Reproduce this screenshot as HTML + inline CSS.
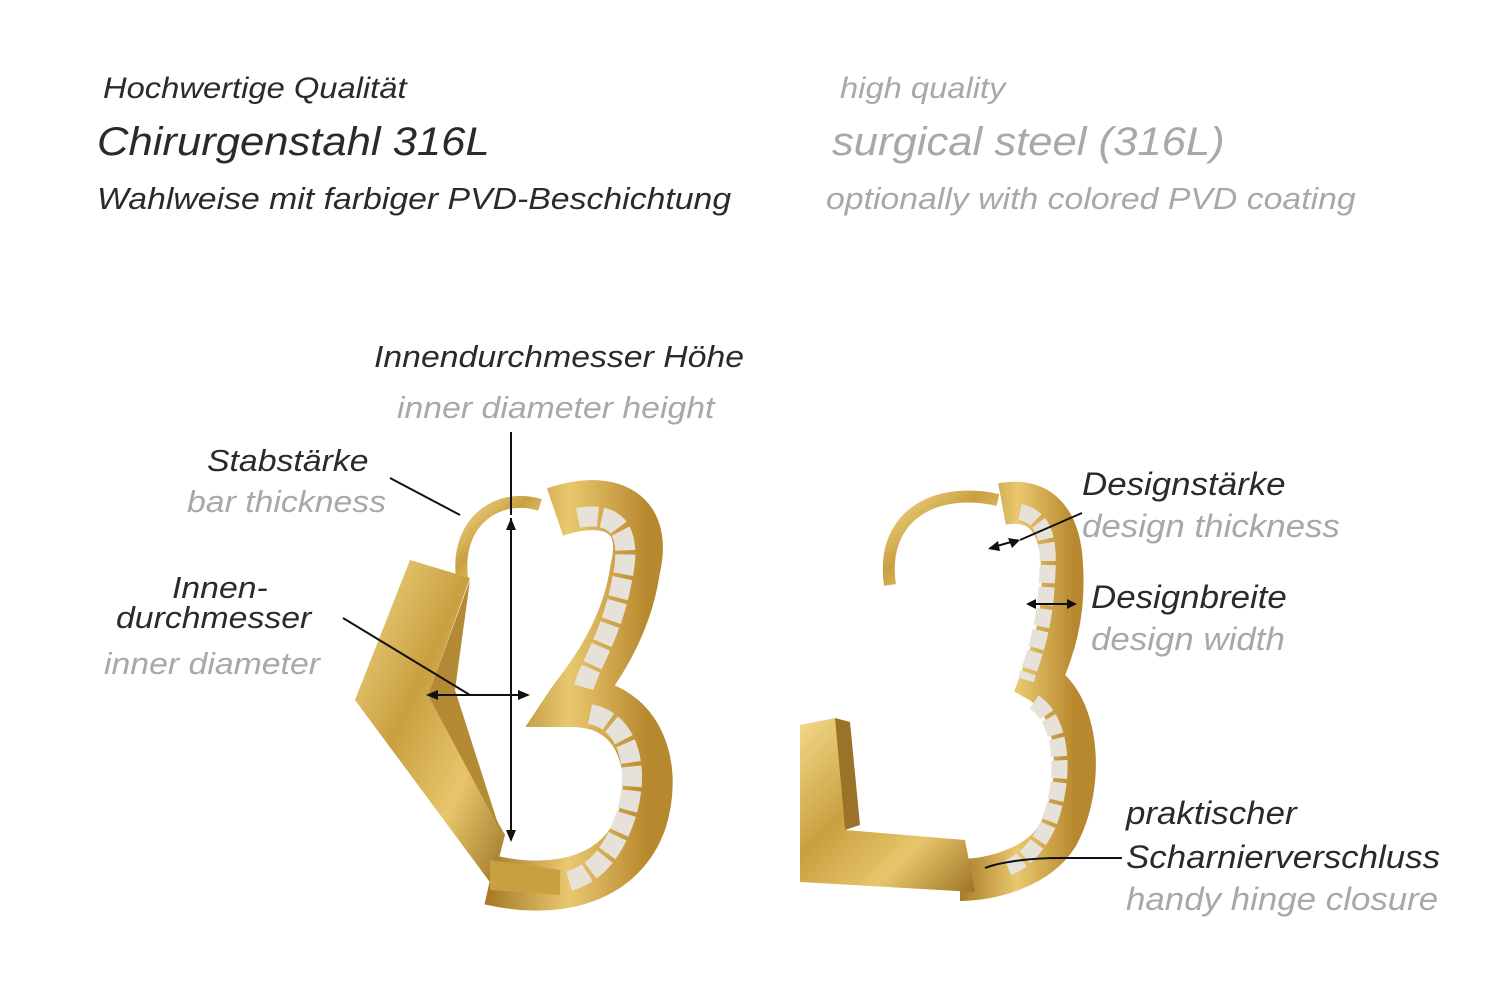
<!DOCTYPE html>
<html><head><meta charset="utf-8"><style>
html,body{margin:0;padding:0;background:#fff;}
#c{position:relative;width:1500px;height:1001px;overflow:hidden;background:#fff;font-family:"Liberation Sans",sans-serif;font-style:italic;}
.t{position:absolute;white-space:nowrap;line-height:1;transform:scaleX(1.09);transform-origin:0 0;}
.d{color:#2a2a2a}.g{color:#a8a8a8}
</style></head><body><div id="c">
<svg width="1500" height="1001" style="position:absolute;left:0;top:0">
<defs>
<linearGradient id="gd" x1="0" y1="0" x2="1" y2="1">
<stop offset="0" stop-color="#f3d98a"/><stop offset="0.4" stop-color="#c9a040"/><stop offset="0.7" stop-color="#e8c56c"/><stop offset="1" stop-color="#9c7424"/></linearGradient>
<linearGradient id="gd2" x1="0" y1="0" x2="1" y2="0">
<stop offset="0" stop-color="#a87c2a"/><stop offset="0.5" stop-color="#e9c86e"/><stop offset="1" stop-color="#b8882e"/></linearGradient>
</defs>
<!-- left earring -->
<path d="M462,578 C455,520 500,492 540,505" fill="none" stroke="url(#gd)" stroke-width="12"/>
<polygon points="410,560 470,578 428,695 505,835 492,885 355,700" fill="url(#gd)"/>
<polygon points="428,695 470,580 455,690 500,830" fill="#b48a34"/>
<path d="M555,512 C605,495 650,508 635,570 C625,640 580,690 572,702 C635,702 660,760 642,820 C622,878 560,896 490,880" fill="none" stroke="url(#gd2)" stroke-width="50"/>
<path d="M578,518 C620,510 632,535 622,580 C612,635 588,668 583,690 M590,714 C630,722 640,770 626,815 C612,858 590,876 566,882" fill="none" stroke="#e6e2da" stroke-width="20" stroke-dasharray="20 4"/>
<path d="M490,860 L560,870 L560,895 L490,890Z" fill="#c9a040"/>
<!-- right earring -->
<path d="M890,585 C880,520 930,485 998,500" fill="none" stroke="url(#gd)" stroke-width="12"/>
<path d="M1002,504 C1040,497 1060,520 1062,565 C1066,625 1048,660 1040,682 C1080,705 1085,785 1058,835 C1038,868 990,880 960,880" fill="none" stroke="url(#gd2)" stroke-width="42"/>
<path d="M1020,512 C1045,517 1050,540 1047,580 C1045,630 1032,660 1026,680 M1034,702 C1064,722 1066,780 1048,825 C1036,850 1022,862 1008,868" fill="none" stroke="#e6e2da" stroke-width="16" stroke-dasharray="18 4"/>
<polygon points="800,725 835,718 845,830 965,840 975,892 800,882" fill="url(#gd)"/>
<polygon points="835,718 850,722 860,825 845,830" fill="#9a7228"/>
<!-- measure lines -->
<g stroke="#111" stroke-width="2" fill="none">
<line x1="511" y1="432" x2="511" y2="515"/>
<line x1="511" y1="518" x2="511" y2="840"/>
<line x1="428" y1="695" x2="528" y2="695"/>
<line x1="390" y1="478" x2="460" y2="515"/>
<line x1="343" y1="618" x2="470" y2="695"/>
<line x1="1082" y1="513" x2="1020" y2="540"/>
<line x1="990" y1="548" x2="1018" y2="540"/>
<line x1="1028" y1="604" x2="1075" y2="604"/>
<line x1="1122" y1="858" x2="1060" y2="858"/>
<path d="M1060,858 C1030,858 1000,862 985,868"/>
</g>
<g fill="#111">
<polygon points="511,518 506,530 516,530"/><polygon points="511,842 506,830 516,830"/>
<polygon points="426,695 438,690 438,700"/><polygon points="530,695 518,690 518,700"/>
<polygon points="988,549 998,541 1000,551"/><polygon points="1020,540 1008,538 1012,548"/>
<polygon points="1026,604 1036,599 1036,609"/><polygon points="1077,604 1067,599 1067,609"/>
</g>
</svg>
<div class="t d" style="left:103px;top:74px;font-size:30px">Hochwertige Qualität</div>
<div class="t d" style="left:97px;top:122px;font-size:40px">Chirurgenstahl 316L</div>
<div class="t d" style="left:97px;top:183px;font-size:31px">Wahlweise mit farbiger PVD-Beschichtung</div>
<div class="t g" style="left:840px;top:74px;font-size:30px">high quality</div>
<div class="t g" style="left:832px;top:122px;font-size:40px">surgical steel (316L)</div>
<div class="t g" style="left:826px;top:183px;font-size:31px">optionally with colored PVD coating</div>
<div class="t d" style="left:374px;top:341px;font-size:31px">Innendurchmesser Höhe</div>
<div class="t g" style="left:397px;top:392px;font-size:31px">inner diameter height</div>
<div class="t d" style="left:207px;top:445px;font-size:31px">Stabstärke</div>
<div class="t g" style="left:187px;top:486px;font-size:31px">bar thickness</div>
<div class="t d" style="left:172px;top:572px;font-size:31px">Innen-</div>
<div class="t d" style="left:116px;top:602px;font-size:31px">durchmesser</div>
<div class="t g" style="left:104px;top:648px;font-size:31px">inner diameter</div>
<div class="t d" style="left:1082px;top:468px;font-size:32px">Designstärke</div>
<div class="t g" style="left:1082px;top:510px;font-size:32px">design thickness</div>
<div class="t d" style="left:1091px;top:581px;font-size:32px">Designbreite</div>
<div class="t g" style="left:1091px;top:623px;font-size:32px">design width</div>
<div class="t d" style="left:1126px;top:797px;font-size:32px">praktischer</div>
<div class="t d" style="left:1126px;top:841px;font-size:32px">Scharnierverschluss</div>
<div class="t g" style="left:1126px;top:883px;font-size:32px">handy hinge closure</div>
</div></body></html>
